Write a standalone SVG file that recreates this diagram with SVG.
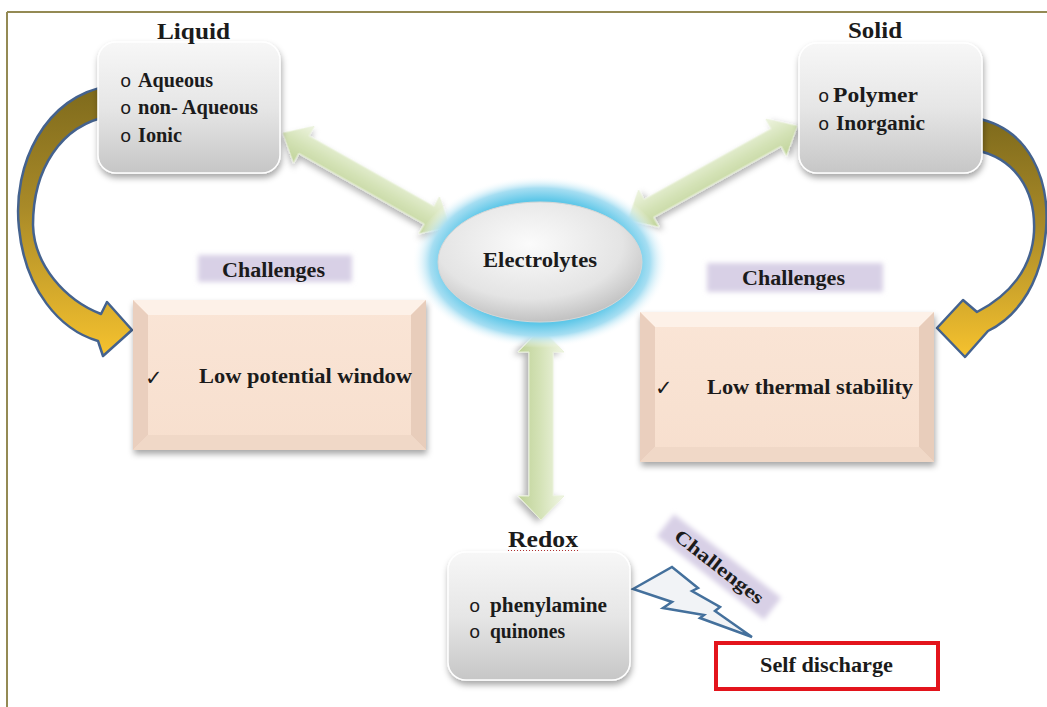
<svg xmlns="http://www.w3.org/2000/svg" width="1047" height="707" viewBox="0 0 1047 707">
<style>
.t{font-family:"Liberation Serif","Times New Roman",serif;font-weight:bold;fill:#1b1b1b}
.b{font-family:"Liberation Mono","Courier New",monospace;font-size:19px;fill:#1b1b1b}
.ck{font-family:"DejaVu Sans",sans-serif;font-size:21px;fill:#1b1b1b}
.gbox{fill:url(#gray);stroke:#ffffff;stroke-width:1.5;filter:url(#sh)}
.gold{fill:url(#goldG);stroke:#44628e;stroke-width:2.5;stroke-linejoin:round}
.green{fill:url(#greenG);stroke:#e9f1d9;stroke-width:1;filter:url(#sh2)}
.lav{fill:#d8d0e6;filter:url(#blur)}
</style>
<defs>
<linearGradient id="gray" x1="0" y1="0" x2="0" y2="1">
<stop offset="0" stop-color="#f7f7f7"/><stop offset="0.5" stop-color="#e6e6e6"/><stop offset="1" stop-color="#c6c6c6"/>
</linearGradient>
<linearGradient id="goldG" x1="0" y1="0" x2="0" y2="1">
<stop offset="0" stop-color="#7e6a1c"/><stop offset="0.45" stop-color="#a98a28"/><stop offset="1" stop-color="#f6c22e"/>
</linearGradient>
<linearGradient id="greenG" gradientUnits="userSpaceOnUse" x1="0" y1="-21" x2="0" y2="21">
<stop offset="0" stop-color="#eef4e0"/><stop offset="0.5" stop-color="#d5e3b8"/><stop offset="1" stop-color="#c0d399"/>
</linearGradient>
<radialGradient id="glow" cx="0.5" cy="0.5" r="0.5">
<stop offset="0" stop-color="#56c3e6"/><stop offset="0.72" stop-color="#5ec7e8"/><stop offset="0.86" stop-color="#a6def2"/><stop offset="1" stop-color="#ffffff" stop-opacity="0"/>
</radialGradient>
<radialGradient id="ell" cx="0.45" cy="0.35" r="0.65">
<stop offset="0" stop-color="#fbfbfb"/><stop offset="0.7" stop-color="#e4e4e4"/><stop offset="1" stop-color="#c2c2c2"/>
</radialGradient>
<linearGradient id="peach" x1="0" y1="0" x2="0" y2="1">
<stop offset="0" stop-color="#fae5d6"/><stop offset="1" stop-color="#f7dfce"/>
</linearGradient>
<filter id="sh" x="-20%" y="-20%" width="140%" height="150%">
<feDropShadow dx="1" dy="4" stdDeviation="3" flood-color="#000" flood-opacity="0.35"/>
</filter>
<filter id="sh2" x="-20%" y="-40%" width="140%" height="180%">
<feDropShadow dx="2" dy="4" stdDeviation="3" flood-color="#000" flood-opacity="0.3"/>
</filter>
<filter id="blur" x="-20%" y="-50%" width="140%" height="200%">
<feGaussianBlur stdDeviation="2.5"/>
</filter>
</defs>

<g id="frame" fill="none" stroke="#948a54" stroke-width="2">
<line x1="7" y1="12" x2="1047" y2="12"/>
<line x1="7" y1="12" x2="7" y2="707"/>
</g>

<g id="connectors">
<path class="gold" d="M110,86 C45,95 12,165 19,228 C25,290 60,330 98,341 L103,356 L132,330 L107,302 L101,314 C65,300 34,265 33,225 C33,170 60,125 110,116 Z"/>
<path class="gold" d="M975,118 C1030,128 1050,180 1046,230 C1042,280 1020,315 988,331 L965,357 L937,328 L963,300 L977,312 C1010,295 1032,268 1034,232 C1036,190 1015,158 975,150 Z"/>
<g transform="translate(366.5,180) rotate(29.4)">
<path class="green" d="M-96,0 L-72,-21 L-72,-10 L72,-10 L72,-21 L96,0 L72,21 L72,10 L-72,10 L-72,21 Z"/>
</g>
<g transform="translate(712.5,173) rotate(-29.1)">
<path class="green" d="M-97,0 L-73,-21 L-73,-10 L73,-10 L73,-21 L97,0 L73,21 L73,10 L-73,10 L-73,21 Z"/>
</g>
<g transform="translate(541,424) rotate(90)">
<path class="green" d="M-96,0 L-72,-23 L-72,-12 L72,-12 L72,-23 L96,0 L72,23 L72,12 L-72,12 L-72,23 Z"/>
</g>
<path d="M633,589 L672,567 L698,588 L692,591 L720,607 L715,611 L752,637 L700,618 L704,615 L663,608 L672,602 Z" fill="#f1f3f6" stroke="#44709c" stroke-width="2.5" stroke-linejoin="miter"/>
</g>

<g id="liquid">
<rect class="gbox" x="98" y="42" width="182" height="131" rx="18"/>
<text class="t" x="193.5" y="39" font-size="24" text-anchor="middle" textLength="73" lengthAdjust="spacingAndGlyphs">Liquid</text>
<text class="b" x="120" y="87">o</text>
<text class="t" x="138" y="87" font-size="20" textLength="75" lengthAdjust="spacingAndGlyphs">Aqueous</text>
<text class="b" x="120" y="114">o</text>
<text class="t" x="138" y="114" font-size="20" textLength="120" lengthAdjust="spacingAndGlyphs">non- Aqueous</text>
<text class="b" x="120" y="142">o</text>
<text class="t" x="138" y="142" font-size="20" textLength="44" lengthAdjust="spacingAndGlyphs">Ionic</text>
</g>

<g id="solid">
<rect class="gbox" x="799" y="43" width="183" height="130" rx="18"/>
<text class="t" x="875" y="38" font-size="24" text-anchor="middle" textLength="54" lengthAdjust="spacingAndGlyphs">Solid</text>
<text class="b" x="818" y="102">o</text>
<text class="t" x="833" y="102" font-size="20" textLength="85" lengthAdjust="spacingAndGlyphs">Polymer</text>
<text class="b" x="818" y="130">o</text>
<text class="t" x="836" y="130" font-size="20" textLength="89" lengthAdjust="spacingAndGlyphs">Inorganic</text>
</g>

<g id="electrolytes">
<ellipse cx="540" cy="262" rx="128" ry="86" fill="url(#glow)"/>
<ellipse cx="540" cy="262" rx="102" ry="60" fill="url(#ell)" stroke="#d6d6d6" stroke-width="1"/>
<text class="t" x="540" y="267" font-size="22" text-anchor="middle" textLength="114" lengthAdjust="spacingAndGlyphs">Electrolytes</text>
</g>

<g id="challenges-left">
<rect class="lav" x="198" y="255" width="154" height="27"/>
<text class="t" x="273.5" y="277" font-size="20" text-anchor="middle" textLength="103" lengthAdjust="spacingAndGlyphs">Challenges</text>
</g>

<g id="challenges-right">
<rect class="lav" x="707" y="263" width="176" height="29"/>
<text class="t" x="793.5" y="285" font-size="20" text-anchor="middle" textLength="103" lengthAdjust="spacingAndGlyphs">Challenges</text>
</g>

<g id="low-potential">
<g filter="url(#sh)">
<rect x="133" y="300" width="293" height="150" fill="url(#peach)"/>
</g>
<polygon points="133,300 426,300 411,315 148,315" fill="#fdf1e8"/>
<polygon points="133,300 148,315 148,435 133,450" fill="#eacfbe"/>
<polygon points="426,300 426,450 411,435 411,315" fill="#e8cdbb"/>
<polygon points="133,450 148,435 411,435 426,450" fill="#f0d8c7"/>
<text class="ck" x="145" y="385">✓</text>
<text class="t" x="199" y="383" font-size="20" textLength="213" lengthAdjust="spacingAndGlyphs">Low potential window</text>
</g>

<g id="low-thermal">
<g filter="url(#sh)">
<rect x="640" y="312" width="294" height="150" fill="url(#peach)"/>
</g>
<polygon points="640,312 934,312 919,327 655,327" fill="#fdf1e8"/>
<polygon points="640,312 655,327 655,447 640,462" fill="#eacfbe"/>
<polygon points="934,312 934,462 919,447 919,327" fill="#e8cdbb"/>
<polygon points="640,462 655,447 919,447 934,462" fill="#f0d8c7"/>
<text class="ck" x="655" y="395">✓</text>
<text class="t" x="707" y="394" font-size="20" textLength="206" lengthAdjust="spacingAndGlyphs">Low thermal stability</text>
</g>

<g id="redox">
<rect class="gbox" x="448" y="552" width="182" height="128" rx="18"/>
<text class="t" x="543" y="547" font-size="24" text-anchor="middle" textLength="70" lengthAdjust="spacingAndGlyphs">Redox</text>
<line x1="508" y1="550.5" x2="578" y2="550.5" stroke="#b03030" stroke-width="1" stroke-dasharray="1 2"/>
<text class="b" x="469" y="612">o</text>
<text class="t" x="490" y="612" font-size="20" textLength="117" lengthAdjust="spacingAndGlyphs">phenylamine</text>
<text class="b" x="469" y="638">o</text>
<text class="t" x="490" y="638" font-size="20" textLength="75" lengthAdjust="spacingAndGlyphs">quinones</text>
</g>

<g id="challenges-redox" transform="translate(719,567) rotate(38)">
<rect class="lav" x="-68" y="-14" width="136" height="28"/>
<text class="t" x="0" y="6" font-size="19" text-anchor="middle" textLength="108" lengthAdjust="spacingAndGlyphs">Challenges</text>
</g>

<g id="self-discharge">
<rect x="716" y="643" width="222" height="46" fill="#ffffff" stroke="#e3141c" stroke-width="4"/>
<text class="t" x="826.5" y="672" font-size="20" text-anchor="middle" textLength="133" lengthAdjust="spacingAndGlyphs">Self discharge</text>
</g>
</svg>
